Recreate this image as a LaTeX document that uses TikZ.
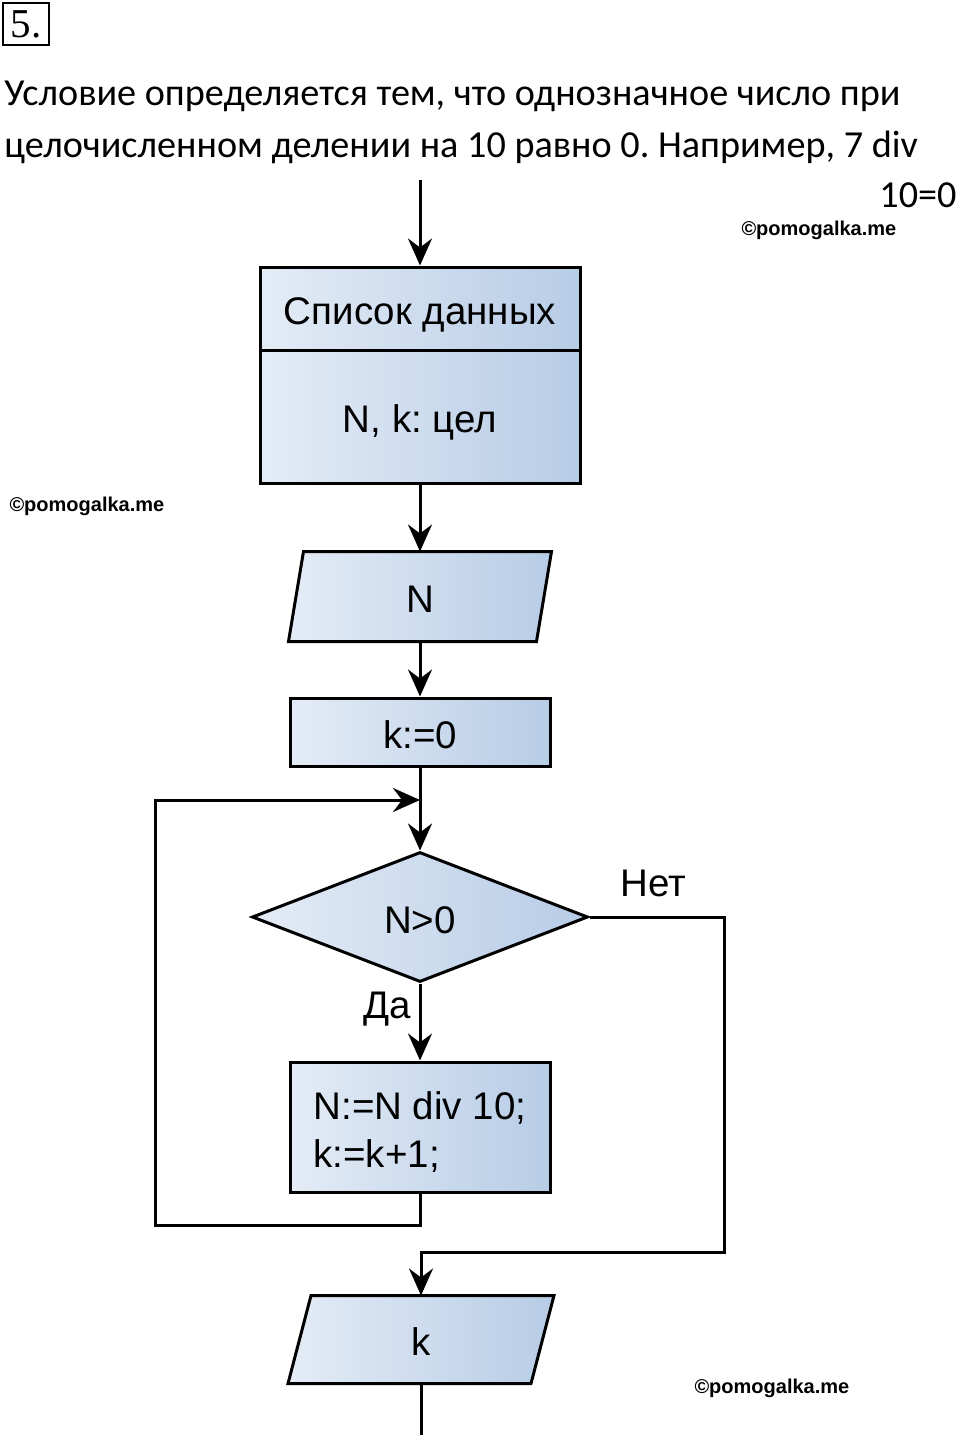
\documentclass[tikz,border=0pt]{standalone}
\usepackage{fontspec}
\setmainfont{Carlito}
\newfontfamily\arialf{Liberation Sans}
\newfontfamily\timesf{Liberation Serif}
\usetikzlibrary{arrows.meta,shapes.geometric,backgrounds}
\definecolor{fillL}{RGB}{228,236,246}
\definecolor{fillR}{RGB}{183,204,230}
\frenchspacing
\begin{document}
\begin{tikzpicture}[x=1pt,y=-1pt,line width=3pt,
  arr/.style={-{Stealth[length=27pt,width=24pt,inset=9pt]}},
  shade/.style={draw=black,line width=3pt,left color=fillL,right color=fillR},
  ff/.style={font=\arialf\fontsize{38.5}{48}\selectfont,text height=32pt,text depth=0pt},
  box/.style={shade,rectangle,inner sep=0pt,ff},
  plain/.style={inner sep=0pt,ff},
  lbl/.style={inner sep=0pt,ff},
  head/.style={inner sep=0pt,anchor=base west,font=\fontsize{38.2}{51}\selectfont},
  wm/.style={inner sep=0pt,anchor=west,font=\arialf\bfseries\fontsize{20}{22}\selectfont}]
\useasboundingbox (0,0) rectangle (960,1435);

% heading
\node[draw,line width=2.5pt,minimum width=46pt,minimum height=42pt,inner sep=0pt,
      font=\timesf\fontsize{41}{42}\selectfont] (num) at (26,24) {5.};
\node[head] (t1) at (3,105) {Условие определяется тем, что однозначное число при};
\node[head] (t2) at (3,157) {целочисленном делении на 10 равно 0. Например, 7 div};
\node[head,anchor=base east] (t3) at (958,207) {10=0};

% watermarks
\node[wm] (w1) at (740,230) {©pomogalka.me};
\node[wm] (w2) at (8,506) {©pomogalka.me};
\node[wm] (w3) at (693,1388) {©pomogalka.me};

% blocks
\node[box,minimum width=320pt,minimum height=83pt] (hdr) at (420,308.5) {Список данных};
\node[box,minimum width=320pt,minimum height=133pt] (dat) at (420,416.5) {N, k: цел};

\node[plain,minimum width=245pt,minimum height=87pt] (inN) at (420,596.5) {N};

\node[box,minimum width=260pt,minimum height=68pt] (init) at (420,732) {k:=0};

\node[box,diamond,minimum width=336pt,minimum height=130pt,aspect=2.58] (dec) at (420,917) {N>0};

\node[box,minimum width=260pt,minimum height=130pt,align=left,text height=80pt] (proc)
      at (420,1127) {N:=N div 10;\\k:=k+1;};

\node[plain,minimum width=240pt,minimum height=85pt] (outK) at (421,1339.5) {k};

\begin{scope}[on background layer]
  \fill[white] (0,0) rectangle (960,1435);
  \path[shade] ([xshift=7.5pt]inN.north west) -- ([xshift=7.5pt]inN.north east)
     -- ([xshift=-7.5pt]inN.south east) -- ([xshift=-7.5pt]inN.south west) -- cycle;
  \path[shade] ([xshift=11.5pt]outK.north west) -- ([xshift=11.5pt]outK.north east)
     -- ([xshift=-11.5pt]outK.south east) -- ([xshift=-11.5pt]outK.south west) -- cycle;
\end{scope}

\node[lbl] (no) at (653,880) {Нет};
\node[lbl] (yes) at (387,1002) {Да};

% connectors
\coordinate (top) at (420,180);
\coordinate (join) at (420,800);
\coordinate (loopL) at (155,1225);
\coordinate (noR) at (724,1252);
\coordinate (bot) at (421,1440);

\draw[arr] (top) -- (hdr.north);
\draw[arr] (dat.south) -- (inN.north);
\draw[arr] (inN.south) -- (init.north);
\draw[arr] (init.south) -- (dec.north);
\draw[arr] (dec.south) -- (proc.north);
\draw[arr] (proc.south) |- (loopL) |- (join);
\draw[arr] (dec.east) -| (noR) -| (outK.north);
\draw (outK.south) -- (bot);
\end{tikzpicture}
\end{document}
